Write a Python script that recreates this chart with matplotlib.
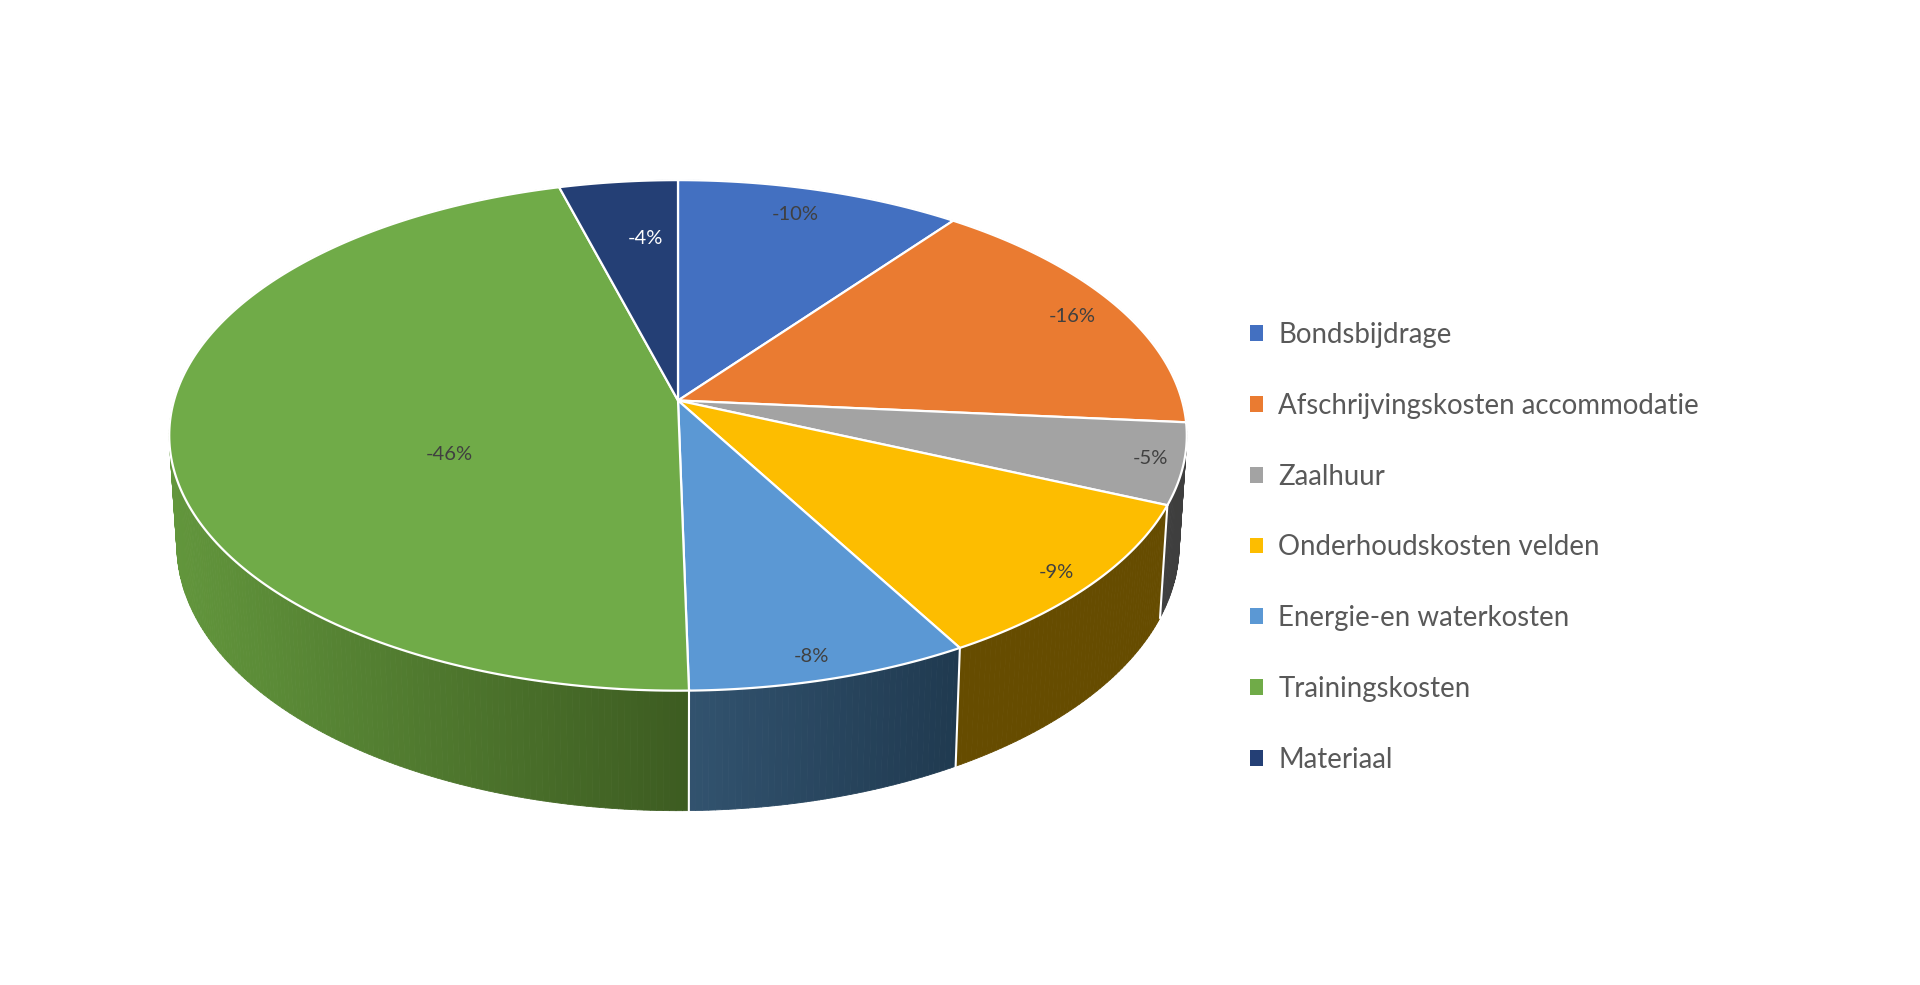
import numpy as np
import matplotlib
matplotlib.use("Agg")
import matplotlib.pyplot as plt
from matplotlib.patches import Polygon, Patch
from matplotlib.collections import PolyCollection

categories = ["Bondsbijdrage", "Afschrijvingskosten accommodatie", "Zaalhuur",
              "Onderhoudskosten velden", "Energie-en waterkosten",
              "Trainingskosten", "Materiaal"]
shares = [10.35, 16.02, 5.1, 10.33, 7.9, 46.0, 4.3]
value_labels = ["-10%", "-16%", "-5%", "-9%", "-8%", "-46%", "-4%"]

top_colors = ["#4370C1", "#EA7B31", "#A3A3A3", "#FDBD00", "#5B98D4", "#70AB48", "#243F75"]
side_light = ["#2F5597", "#A85A20", "#3E3E3E", "#664C00", "#32536F", "#62963C", "#1A3055"]
side_dark = ["#2F5597", "#A85A20", "#3E3E3E", "#664C00", "#203A50", "#3D5C21", "#1A3055"]
label_colors = ["#404040"] * 6 + ["#FFFFFF"]
label_xy = [(795, 214), (1072, 316), (1150, 459), (1056, 572), (811, 656), (449, 455), (645, 239)]

W, H = 1920, 985
CX, CY = 678.0, 400.5
RX, RY, K = 504.0, 250.5, 0.1367
SHRINK_X, SHRINK_Y, DROP = 0.985, 1.04, 108.4


def rim(theta):
    """Perspective projection of a circle point, theta clockwise from 12 o'clock."""
    u, v = np.sin(theta), np.cos(theta)
    w = 1 + K * v
    return RX * u / w, -RY * v / w


def blend(a, b, t):
    ca, cb = np.array(matplotlib.colors.to_rgb(a)), np.array(matplotlib.colors.to_rgb(b))
    return tuple(ca + (cb - ca) * t)


fig = plt.figure(figsize=(W / 100, H / 100), dpi=100, facecolor="white")
ax = fig.add_axes([0, 0, 1, 1])
ax.set_xlim(0, W)
ax.set_ylim(H, 0)
ax.axis("off")

edges = np.cumsum([0] + shares) / sum(shares) * 2 * np.pi

# side wall: shading runs left to right over the visible part of each slice
polys, faces = [], []
for i in range(len(shares)):
    th = np.linspace(edges[i], edges[i + 1], max(int((edges[i + 1] - edges[i]) * 90), 2))
    x, y = rim(th)
    front = x[y > -40] if np.any(y > -40) else x
    x0, x1 = front.min(), front.max()
    for j in range(len(th) - 1):
        polys.append([(CX + x[j], CY + y[j]), (CX + x[j + 1], CY + y[j + 1]),
                      (CX + x[j + 1] * SHRINK_X, CY + y[j + 1] * SHRINK_Y + DROP),
                      (CX + x[j] * SHRINK_X, CY + y[j] * SHRINK_Y + DROP)])
        t = np.clip((x[j] - x0) / max(x1 - x0, 1), 0, 1)
        faces.append(blend(side_light[i], side_dark[i], t))
ax.add_collection(PolyCollection(polys, facecolors=faces, edgecolors=faces, linewidths=0.6, zorder=1))

for e in edges:
    x, y = rim(np.array([e]))
    if y[0] > 40:
        ax.plot([CX + x[0], CX + x[0] * SHRINK_X], [CY + y[0], CY + y[0] * SHRINK_Y + DROP],
                color="white", lw=1.5, zorder=2)

# top face
for i, c in enumerate(top_colors):
    th = np.linspace(edges[i], edges[i + 1], 200)
    x, y = rim(th)
    pts = np.column_stack([np.r_[CX, CX + x], np.r_[CY, CY + y]])
    ax.add_patch(Polygon(pts, closed=True, facecolor=c, edgecolor="white", lw=1.6, joinstyle="round", zorder=3))

for (lx, ly), t, c in zip(label_xy, value_labels, label_colors):
    ax.text(lx, ly, t, color=c, fontsize=14.5, family="Lato", ha="center", va="center", zorder=4)

handles = [Patch(facecolor=c, edgecolor="none") for c in top_colors]
ax.legend(handles, categories, loc="upper left", bbox_to_anchor=(1249.5 / W, 1 - 322 / H),
          frameon=False, labelcolor="#595959", prop={"family": "Lato", "size": 19.9},
          handlelength=0.49, handleheight=0.49, handletextpad=0.55, labelspacing=1.62,
          borderpad=0, borderaxespad=0)

fig.savefig("out.png", dpi=100)
